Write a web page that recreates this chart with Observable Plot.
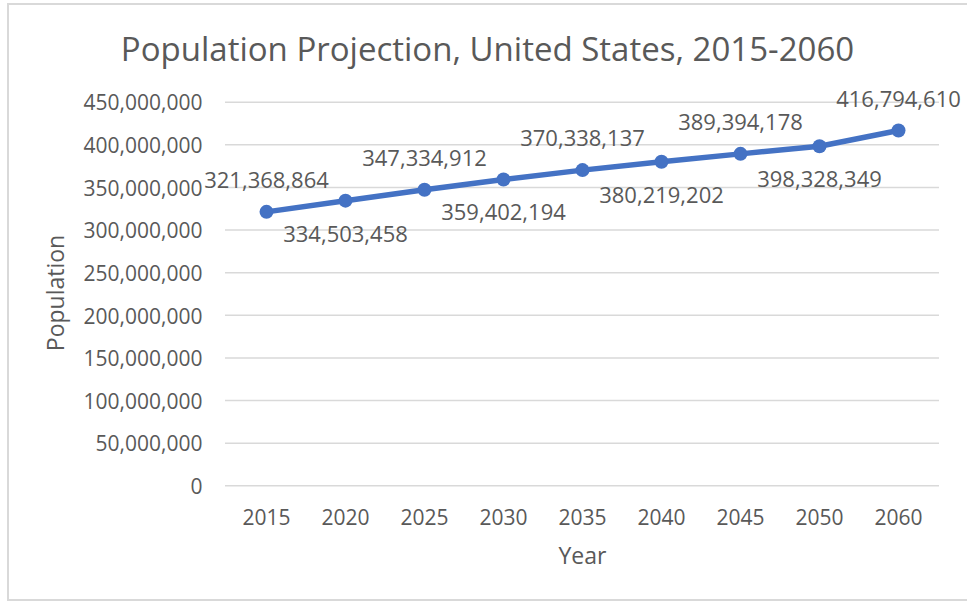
<!DOCTYPE html>
<html>
<head>
<meta charset="utf-8">
<script src="https://cdn.jsdelivr.net/npm/d3@7"></script>
<script src="https://cdn.jsdelivr.net/npm/@observablehq/plot@0.6"></script>
<style>
  html, body { margin: 0; padding: 0; background: #fff; overflow: hidden; }
  #wrap { position: relative; width: 967px; height: 605px; }
  #border { position: absolute; left: 7px; top: 3px; width: 990px; height: 598px; border: 2px solid #d9d9d9; box-sizing: border-box; }
  #chart { position: absolute; left: 0; top: 0; }
</style>
</head>
<body>
<div id="wrap"><div id="border"></div><div id="chart"></div></div>
<script>
const titleText = "Population Projection, United States, 2015-2060";
const xLabel = "Year";
const yLabel = "Population";
const years = ["2015", "2020", "2025", "2030", "2035", "2040", "2045", "2050", "2060"];
const population = [321368864, 334503458, 347334912, 359402194, 370338137, 380219202, 389394178, 398328349, 416794610];
const yTicks = [0, 50000000, 100000000, 150000000, 200000000, 250000000, 300000000, 350000000, 400000000, 450000000];

const data = years.map((y, i) => ({year: y, pop: population[i], above: i % 2 === 0}));
const fmt = d3.format(",");
const textColor = "#595959";
const blue = "#4472C4";

const chart = Plot.plot({
  width: 967,
  height: 605,
  marginLeft: 225,
  marginRight: 28,
  marginTop: 101.7,
  marginBottom: 119.7,
  style: {fontFamily: "'Open Sans', sans-serif", color: textColor, background: "transparent"},
  x: {type: "point", domain: years, padding: 0.5},
  y: {domain: [0, 450000000]},
  marks: [
    Plot.gridY(yTicks, {stroke: "#d9d9d9", strokeOpacity: 1, strokeWidth: 1.6}),
    Plot.axisY(yTicks, {tickSize: 0, tickPadding: 23, fontSize: 21, tickFormat: fmt, label: null, fill: textColor, dy: 1.5}),
    Plot.axisX({tickSize: 0, tickPadding: 24, fontSize: 21, label: null, fill: textColor}),
    Plot.line(data, {x: "year", y: "pop", stroke: blue, strokeWidth: 5.5}),
    Plot.dot(data, {x: "year", y: "pop", r: 7, fill: blue, stroke: null}),
    Plot.text(data.filter(d => d.above), {x: "year", y: "pop", text: d => fmt(d.pop), dy: -24, lineAnchor: "bottom", fontSize: 22, fill: textColor}),
    Plot.text(data.filter(d => !d.above), {x: "year", y: "pop", text: d => fmt(d.pop), dy: 41, lineAnchor: "bottom", fontSize: 22, fill: textColor}),
    Plot.text([titleText], {frameAnchor: "top", dx: -95, dy: -40.7, lineAnchor: "bottom", fontSize: 33, fill: textColor}),
    Plot.text([xLabel], {frameAnchor: "bottom", dy: 78, lineAnchor: "bottom", fontSize: 23, fill: textColor}),
    Plot.text([yLabel], {frameAnchor: "left", textAnchor: "middle", dx: -161.5, dy: -1, rotate: -90, lineAnchor: "bottom", fontSize: 23, fill: textColor})
  ]
});
document.getElementById("chart").appendChild(chart);
</script>
</body>
</html>
